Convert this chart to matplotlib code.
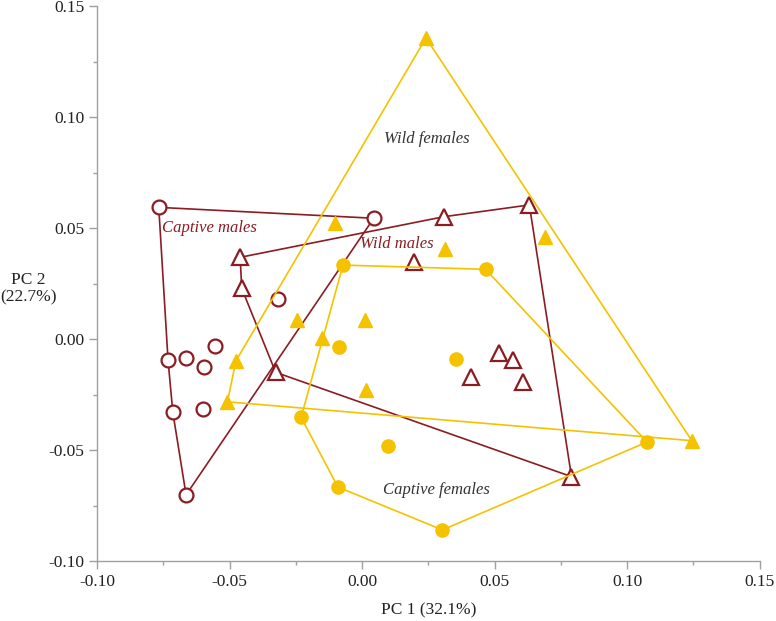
import numpy as np
import matplotlib
matplotlib.use('Agg')
from matplotlib import pyplot as plt
from matplotlib.ticker import MultipleLocator

# PC scores
cm_x = [-0.0767, 0.0044, -0.0319, -0.0554, -0.0732, -0.0664, -0.0598, -0.0714, -0.0599, -0.0664]
cm_y = [0.0593, 0.0544, 0.0179, -0.0032, -0.0095, -0.0084, -0.0125, -0.0330, -0.0317, -0.0702]

wm_x = [-0.0460, -0.0454, -0.0326, 0.0197, 0.0309, 0.0631, 0.0516, 0.0571, 0.0410, 0.0606, 0.0790]
wm_y = [0.0368, 0.0228, -0.0150, 0.0348, 0.0551, 0.0604, -0.0064, -0.0095, -0.0173, -0.0192, -0.0620]

wf_x = [0.0241, -0.0104, 0.0314, 0.0690, -0.0247, 0.0012, -0.0151, -0.0476, -0.0508, 0.0015, 0.1244]
wf_y = [0.1356, 0.0524, 0.0404, 0.0460, 0.0086, 0.0084, 0.0003, -0.0099, -0.0283, -0.0230, -0.0458]

cf_x = [-0.0072, 0.0466, -0.0086, 0.0356, -0.0230, 0.0099, -0.0091, 0.0303, 0.1075]
cf_y = [0.0333, 0.0314, -0.0034, -0.0090, -0.0353, -0.0484, -0.0667, -0.0860, -0.0464]

red = '#8B1C22'
gold = '#F5C200'


def hull(xs, ys):
    # monotone chain convex hull, closed
    pts = sorted(zip(xs, ys))

    def cross(o, a, b):
        return (a[0] - o[0]) * (b[1] - o[1]) - (a[1] - o[1]) * (b[0] - o[0])

    lower, upper = [], []
    for p in pts:
        while len(lower) >= 2 and cross(lower[-2], lower[-1], p) <= 0:
            lower.pop()
        lower.append(p)
    for p in reversed(pts):
        while len(upper) >= 2 and cross(upper[-2], upper[-1], p) <= 0:
            upper.pop()
        upper.append(p)
    h = lower[:-1] + upper[:-1]
    h.append(h[0])
    return np.array(h)


plt.rcParams['font.family'] = ['Liberation Serif', 'DejaVu Serif']

fig = plt.figure(figsize=(7.76, 6.21), dpi=100)
ax = fig.add_axes([0.125, 0.0966, 0.854, 0.8937])

for xs, ys, col in [(cm_x, cm_y, red), (wm_x, wm_y, red)]:
    h = hull(xs, ys)
    ax.plot(h[:, 0], h[:, 1], color=col, lw=1.2, zorder=1)
ax.plot(cm_x, cm_y, 'o', ms=10, mfc='white', mec=red, mew=1.6, ls='none', zorder=2)
ax.plot(wm_x, wm_y, '^', ms=11, mfc='white', mec=red, mew=1.6, ls='none', zorder=2)

for xs, ys, col in [(wf_x, wf_y, gold), (cf_x, cf_y, gold)]:
    h = hull(xs, ys)
    ax.plot(h[:, 0], h[:, 1], color=col, lw=1.2, zorder=3)
ax.plot(wf_x, wf_y, '^', ms=10, color=gold, ls='none', zorder=4)
ax.plot(cf_x, cf_y, 'o', ms=9.5, color=gold, ls='none', zorder=4)

ax.text(-0.0754, 0.0499, 'Captive males', color=red, style='italic', fontsize=12,
        ha='left', va='center')
ax.text(0.013, 0.0428, 'Wild males', color=red, style='italic', fontsize=12,
        ha='center', va='center')
ax.text(0.0243, 0.0901, 'Wild females', color='#333333', style='italic', fontsize=12,
        ha='center', va='center')
ax.text(0.028, -0.068, 'Captive females', color='#333333', style='italic', fontsize=12,
        ha='center', va='center')

ax.set_xlim(-0.10, 0.15)
ax.set_ylim(-0.10, 0.15)
ax.xaxis.set_major_locator(MultipleLocator(0.05))
ax.yaxis.set_major_locator(MultipleLocator(0.05))
ax.xaxis.set_minor_locator(MultipleLocator(0.025))
ax.yaxis.set_minor_locator(MultipleLocator(0.025))
ax.xaxis.set_major_formatter(lambda v, p: f'{v:.2f}')
ax.yaxis.set_major_formatter(lambda v, p: f'{v:.2f}')

for s in ['top', 'right']:
    ax.spines[s].set_visible(False)
for s in ['left', 'bottom']:
    ax.spines[s].set_color('#A0A0A0')
    ax.spines[s].set_linewidth(1.0)
ax.tick_params(which='major', length=6, width=1, color='#A0A0A0', labelsize=12.5,
               labelcolor='#222222', pad=3)
ax.tick_params(which='minor', length=3, width=1, color='#A0A0A0')

ax.set_xlabel('PC 1 (32.1%)', fontsize=12.5, color='#222222', labelpad=9)
fig.text(0.037, 0.535, 'PC 2\n(22.7%)', fontsize=12.5, color='#222222',
         ha='center', va='center', linespacing=1.1)

fig.savefig('out.png', dpi=100)
